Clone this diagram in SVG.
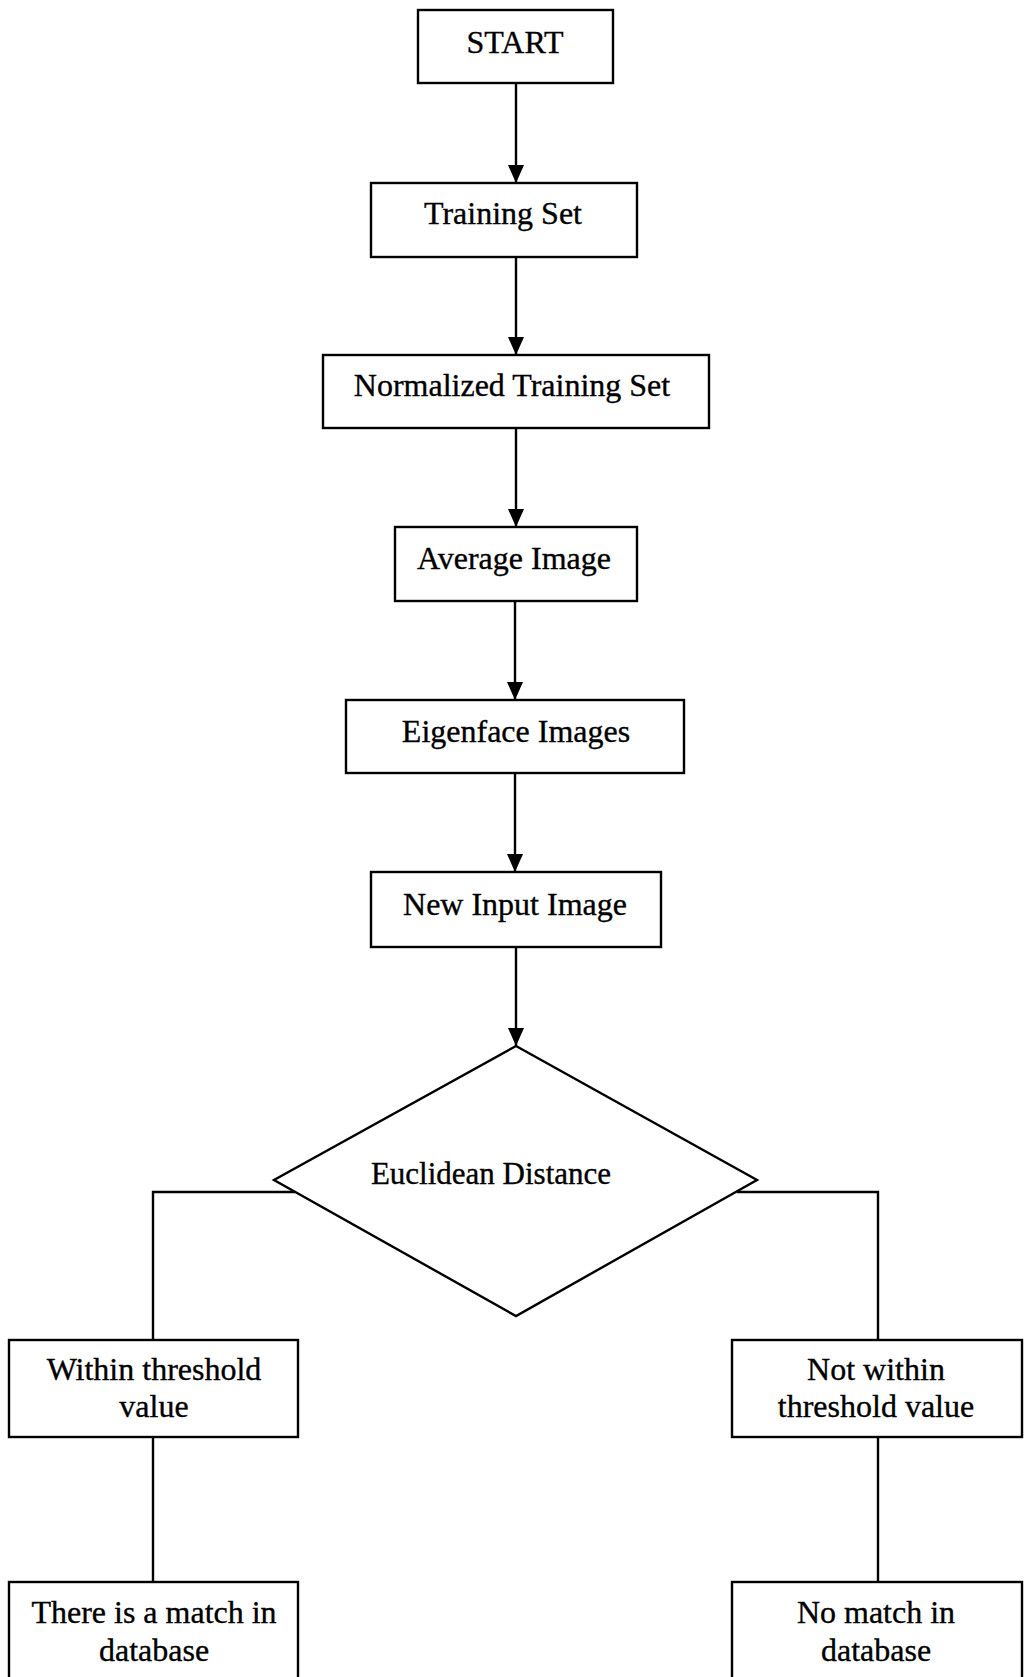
<svg xmlns="http://www.w3.org/2000/svg" width="1026" height="1677" viewBox="0 0 1026 1677">
  <style>
    .box { fill: #ffffff; stroke: #000000; stroke-width: 2.4; }
    .lbl { font-family: "Liberation Serif", "Times New Roman", serif; font-size: 32px; fill: #000000; stroke: #000000; stroke-width: 0.35; text-anchor: middle; }
    .wire { fill: none; stroke: #000000; stroke-width: 2.4; }
  </style>
  <defs>
    <marker id="arrow" viewBox="0 0 18 16" refX="18" refY="8" markerWidth="18" markerHeight="16" markerUnits="userSpaceOnUse" orient="auto">
      <path d="M0,0 L18,8 L0,16 Z" fill="#000000"/>
    </marker>
  </defs>
  <rect width="1026" height="1677" fill="#ffffff"/>

  <!-- flow connectors -->
  <g id="connectors">
    <line class="wire" x1="516" y1="83" x2="516" y2="183" marker-end="url(#arrow)"/>
    <line class="wire" x1="516" y1="257" x2="516" y2="355" marker-end="url(#arrow)"/>
    <line class="wire" x1="516" y1="428" x2="516" y2="527" marker-end="url(#arrow)"/>
    <line class="wire" x1="515" y1="601" x2="515" y2="700" marker-end="url(#arrow)"/>
    <line class="wire" x1="515" y1="773" x2="515" y2="872" marker-end="url(#arrow)"/>
    <line class="wire" x1="516" y1="947" x2="516" y2="1046" marker-end="url(#arrow)"/>
    <polyline class="wire" points="295,1192 153,1192 153,1340"/>
    <line class="wire" x1="153" y1="1437" x2="153" y2="1582"/>
    <polyline class="wire" points="737,1192 878,1192 878,1340"/>
    <line class="wire" x1="878" y1="1437" x2="878" y2="1582"/>
  </g>

  <g id="start">
    <rect class="box" x="418" y="10" width="195" height="73"/>
    <text class="lbl" x="515" y="53">START</text>
  </g>
  <g id="training-set">
    <rect class="box" x="371" y="183" width="266" height="74"/>
    <text class="lbl" x="503" y="224">Training Set</text>
  </g>
  <g id="normalized-training-set">
    <rect class="box" x="323" y="355" width="386" height="73"/>
    <text class="lbl" x="512" y="396">Normalized Training Set</text>
  </g>
  <g id="average-image">
    <rect class="box" x="395" y="527" width="242" height="74"/>
    <text class="lbl" x="514" y="569">Average Image</text>
  </g>
  <g id="eigenface-images">
    <rect class="box" x="346" y="700" width="338" height="73"/>
    <text class="lbl" x="516" y="742">Eigenface Images</text>
  </g>
  <g id="new-input-image">
    <rect class="box" x="371" y="872" width="290" height="75"/>
    <text class="lbl" x="515" y="915">New Input Image</text>
  </g>
  <g id="euclidean-distance">
    <polygon class="box" points="516,1046 757,1180 516,1316 274,1180"/>
    <text class="lbl" x="491" y="1184" style="font-size:31px">Euclidean Distance</text>
  </g>
  <g id="within-threshold">
    <rect class="box" x="9" y="1340" width="289" height="97"/>
    <text class="lbl" x="154" y="1380">Within threshold</text>
    <text class="lbl" x="154" y="1417">value</text>
  </g>
  <g id="not-within-threshold">
    <rect class="box" x="732" y="1340" width="290" height="97"/>
    <text class="lbl" x="876" y="1380">Not within</text>
    <text class="lbl" x="876" y="1417">threshold value</text>
  </g>
  <g id="match">
    <rect class="box" x="9" y="1582" width="289" height="110"/>
    <text class="lbl" x="154" y="1623">There is a match in</text>
    <text class="lbl" x="154" y="1661">database</text>
  </g>
  <g id="no-match">
    <rect class="box" x="732" y="1582" width="290" height="110"/>
    <text class="lbl" x="876" y="1623">No match in</text>
    <text class="lbl" x="876" y="1661">database</text>
  </g>
</svg>
